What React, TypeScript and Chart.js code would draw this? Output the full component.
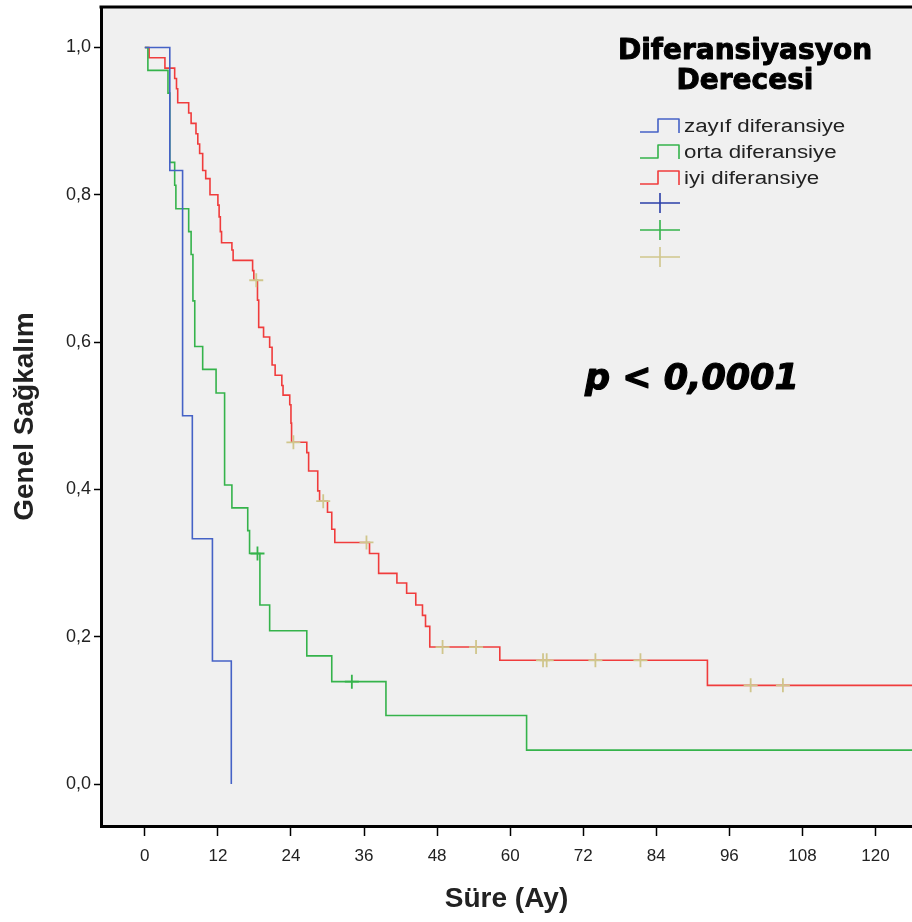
import { useEffect, useRef } from "react";
import { Chart, registerables } from "chart.js";

Chart.register(...registerables);

// ---- Data ----
const xTicks = [0, 12, 24, 36, 48, 60, 72, 84, 96, 108, 120];
const yTicks = [0, 0.2, 0.4, 0.6, 0.8, 1.0];
const yTickLabels = ["0,0", "0,2", "0,4", "0,6", "0,8", "1,0"];

const seriesNames = ["zayıf diferansiye", "orta diferansiye", "iyi diferansiye"];
const legendTitle = ["Diferansiyasyon", "Derecesi"];
const pText = "p < 0,0001";
const xTitle = "Süre (Ay)";
const yTitle = "Genel Sağkalım";

// zayıf diferansiye
const blueTimes = [0, 4.1, 6.2, 7.8, 11.1, 14.2];
const blueSurv = [1, 0.833, 0.5, 0.333, 0.167, 0];
const blueCensorTimes: number[] = [];

// orta diferansiye
const greenTimes = [0, 0.5, 3.8, 4.1, 4.9, 5.1, 7.2, 7.6, 7.9, 8.2, 9.5, 11.7, 13.1, 14.3, 16.9, 17.2, 18.9, 20.5, 26.6, 30.7, 39.6, 62.7, 126];
const greenSurv = [1, 0.969, 0.938, 0.844, 0.813, 0.781, 0.75, 0.719, 0.656, 0.594, 0.563, 0.531, 0.406, 0.375, 0.344, 0.313, 0.243, 0.208, 0.174, 0.139, 0.093, 0.046, 0.046];
const greenCensorTimes = [18.5, 34.0];

// iyi diferansiye
const redTimes = [0, 0.7, 3.3, 4.9, 5.2, 5.4, 7.2, 7.6, 8.4, 8.7, 9.0, 9.5, 10.0, 10.7, 12.0, 12.2, 12.4, 12.6, 14.3, 14.5, 17.7, 17.9, 18.5, 18.7, 19.5, 20.5, 20.9, 21.4, 22.5, 22.7, 23.8, 24.0, 24.1, 26.6, 26.9, 28.4, 28.7, 30.0, 30.7, 31.2, 36.9, 38.4, 41.4, 43.0, 44.5, 45.6, 46.1, 46.8, 58.3, 92.4, 126];
const redSurv = [1, 0.986, 0.972, 0.958, 0.944, 0.925, 0.911, 0.897, 0.883, 0.869, 0.856, 0.833, 0.822, 0.8, 0.786, 0.77, 0.75, 0.735, 0.725, 0.711, 0.697, 0.684, 0.657, 0.62, 0.607, 0.593, 0.569, 0.555, 0.541, 0.528, 0.515, 0.49, 0.464, 0.45, 0.425, 0.398, 0.384, 0.369, 0.346, 0.328, 0.313, 0.286, 0.273, 0.259, 0.243, 0.229, 0.214, 0.186, 0.168, 0.134, 0.134];
const redCensorTimes = [18.3, 24.4, 29.3, 36.4, 48.9, 54.4, 65.4, 66.0, 74.0, 81.4, 99.5, 104.8];

// ---- Styles ----
const BLUE = "#4562C6";
const BLUE_DARK = "#2B3FA8";
const GREEN = "#35B34B";
const RED = "#F03C3C";
const TAN = "#D0C68C";
const FONT = '"Liberation Sans", Arial, sans-serif';

function levelAt(times: number[], surv: number[], t: number) {
  let v = surv[0];
  for (let i = 0; i < times.length; i++) if (times[i] <= t) v = surv[i];
  return v;
}
function pts(times: number[], surv: number[]) {
  return times.map((t, i) => ({ x: t, y: surv[i] }));
}
function censorPts(c: number[], times: number[], surv: number[]) {
  return c.map((t) => ({ x: t, y: levelAt(times, surv, t) }));
}

function heavyText(ctx: CanvasRenderingContext2D, text: string, x: number, y: number, stroke: number) {
  ctx.fillText(text, x, y);
  if (stroke > 0) {
    ctx.lineWidth = stroke;
    ctx.strokeStyle = ctx.fillStyle as string;
    ctx.lineJoin = "round";
    ctx.strokeText(text, x, y);
  }
}

const decorPlugin = {
  id: "decor",
  beforeDraw(chart: any) {
    const { ctx, chartArea: a } = chart;
    ctx.save();
    ctx.fillStyle = "#ffffff";
    ctx.fillRect(0, 0, chart.width, chart.height);
    ctx.fillStyle = "#F0F0F0";
    ctx.fillRect(a.left, a.top, a.right - a.left, a.bottom - a.top);
    ctx.restore();
  },
  afterDraw(chart: any) {
    const { ctx, chartArea: a } = chart;
    ctx.save();
    // top frame line
    ctx.strokeStyle = "#000";
    ctx.lineWidth = 3;
    ctx.beginPath();
    ctx.moveTo(a.left - 1.5, a.top);
    ctx.lineTo(chart.width, a.top);
    ctx.stroke();

    // legend title
    ctx.fillStyle = "#000";
    ctx.textAlign = "center";
    ctx.textBaseline = "middle";
    ctx.font = 'bold 28px "DejaVu Sans", sans-serif';
    heavyText(ctx, legendTitle[0], 745, 52, 1);
    heavyText(ctx, legendTitle[1], 745, 82, 1);

    // legend step entries
    const colors = [BLUE, GREEN, RED];
    const rows = [127, 153, 179];
    for (let i = 0; i < 3; i++) {
      const y = rows[i];
      ctx.strokeStyle = colors[i];
      ctx.lineWidth = 1.6;
      ctx.beginPath();
      ctx.moveTo(640, y + 5);
      ctx.lineTo(658, y + 5);
      ctx.lineTo(658, y - 8);
      ctx.lineTo(679, y - 8);
      ctx.lineTo(679, y + 6);
      ctx.stroke();
      ctx.save();
      ctx.fillStyle = "#222";
      ctx.textAlign = "left";
      ctx.textBaseline = "middle";
      ctx.font = `18px ${FONT}`;
      ctx.translate(684, y);
      ctx.scale(1.24, 1);
      ctx.fillText(seriesNames[i], 0, 0);
      ctx.restore();
    }
    // legend censor entries
    const ccolors = [BLUE_DARK, GREEN, TAN];
    const crows = [203, 230, 257];
    for (let i = 0; i < 3; i++) {
      const y = crows[i];
      ctx.strokeStyle = ccolors[i];
      ctx.lineWidth = 1.6;
      ctx.beginPath();
      ctx.moveTo(640, y);
      ctx.lineTo(680, y);
      ctx.moveTo(660, y - 10);
      ctx.lineTo(660, y + 10);
      ctx.stroke();
    }

    // p value
    ctx.fillStyle = "#000";
    ctx.textAlign = "left";
    ctx.textBaseline = "middle";
    ctx.font = 'italic bold 35px "DejaVu Sans", sans-serif';
    heavyText(ctx, pText, 585, 380, 1.2);
    ctx.restore();
  },
};

export default function App() {
  const ref = useRef<HTMLCanvasElement | null>(null);
  useEffect(() => {
    if (!ref.current) return;
    const lineDs = (label: string, data: any[], color: string) => ({
      type: "line" as const,
      label,
      data,
      stepped: "before" as const,
      borderColor: color,
      borderWidth: 1.6,
      pointRadius: 0,
      fill: false,
      order: 2,
    });
    const censorDs = (data: any[], color: string) => ({
      type: "scatter" as const,
      label: "",
      data,
      showLine: false,
      pointStyle: "cross" as const,
      pointRadius: 7,
      pointBorderWidth: 1.8,
      borderColor: color,
      backgroundColor: color,
      order: 1,
    });
    const chart = new Chart(ref.current, {
      type: "line",
      data: {
        datasets: [
          lineDs(seriesNames[0], pts(blueTimes, blueSurv), BLUE),
          lineDs(seriesNames[1], pts(greenTimes, greenSurv), GREEN),
          lineDs(seriesNames[2], pts(redTimes, redSurv), RED),
          censorDs(censorPts(blueCensorTimes, blueTimes, blueSurv), BLUE_DARK),
          censorDs(censorPts(greenCensorTimes, greenTimes, greenSurv), GREEN),
          censorDs(censorPts(redCensorTimes, redTimes, redSurv), TAN),
        ] as any,
      },
      options: {
        animation: false,
        responsive: false,
        devicePixelRatio: 1,
        layout: { autoPadding: false, padding: { top: 7, right: 0, left: 0, bottom: 0 } },
        plugins: {
          legend: { display: false },
          tooltip: { enabled: false },
        },
        scales: {
          x: {
            type: "linear",
            min: -7.2,
            max: 126,
            afterBuildTicks: (s: any) => {
              s.ticks = xTicks.map((v) => ({ value: v }));
            },
            afterFit: (s: any) => {
              s.height = 96;
              s.paddingLeft = 0;
              s.paddingRight = 0;
            },
            ticks: {
              autoSkip: false,
              maxRotation: 0,
              color: "#222",
              padding: 10,
              font: { family: FONT, size: 17 },
              callback: (v: any) => String(v),
            },
            grid: {
              drawOnChartArea: false,
              drawTicks: true,
              tickLength: 10,
              tickColor: "#000",
              tickWidth: 1.5,
            },
            border: { display: true, color: "#000", width: 3 },
            title: {
              display: true,
              text: xTitle,
              color: "#222",
              font: { family: FONT, size: 28, weight: "bold" },
              padding: { top: 0, bottom: 6 },
            },
          },
          y: {
            type: "linear",
            min: -0.057,
            max: 1.055,
            afterBuildTicks: (s: any) => {
              s.ticks = yTicks.map((v) => ({ value: v }));
            },
            afterFit: (s: any) => {
              s.width = 101;
              s.paddingTop = 0;
              s.paddingBottom = 0;
            },
            ticks: {
              autoSkip: false,
              color: "#222",
              padding: 3,
              font: { family: FONT, size: 18 },
              callback: (v: any) => {
                const i = yTicks.findIndex((t) => Math.abs(t - v) < 1e-6);
                return i >= 0 ? yTickLabels[i] : "";
              },
            },
            grid: {
              drawOnChartArea: false,
              drawTicks: true,
              tickLength: 7,
              tickColor: "#000",
              tickWidth: 1.5,
            },
            border: { display: true, color: "#000", width: 3 },
            title: {
              display: true,
              text: yTitle,
              color: "#222",
              font: { family: FONT, size: 28, weight: "bold" },
              padding: { top: 8, bottom: 0 },
            },
          },
        },
      } as any,
      plugins: [decorPlugin],
    });
    return () => chart.destroy();
  }, []);
  return (
    <div style={{ position: "absolute", left: 0, top: 0, width: 912, height: 922 }}>
      <canvas ref={ref} width={912} height={922} style={{ display: "block" }} />
    </div>
  );
}
